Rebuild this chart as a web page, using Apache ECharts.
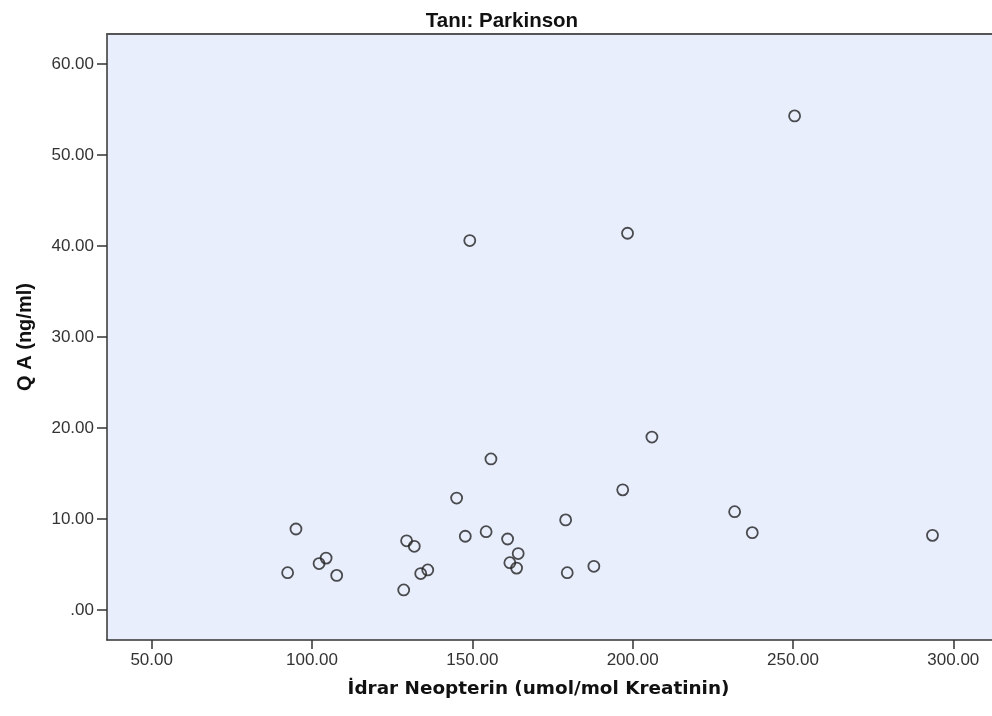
<!DOCTYPE html>
<html>
<head>
<meta charset="utf-8">
<script src="https://cdn.jsdelivr.net/npm/echarts@6/dist/echarts.min.js"></script>
<style>html,body{margin:0;padding:0;background:#fff;}#c{width:992px;height:716px;}</style>
</head>
<body>
<div id="c"></div>
<script>
const titleText = 'Tanı: Parkinson';
const xName = 'İdrar Neopterin (umol/mol Kreatinin)';
const yName = 'Q A (ng/ml)';
const neopterin = [250.5, 198.4, 149.2, 206.0, 155.8, 145.1, 196.9, 231.8, 179.1, 95.0, 237.3, 293.5, 154.3, 147.8, 161.0, 129.5, 131.9, 164.3, 104.4, 102.2, 161.7, 187.9, 163.8, 92.4, 179.6, 136.1, 133.9, 107.7, 128.6];
const qa = [54.3, 41.4, 40.6, 19.0, 16.6, 12.3, 13.2, 10.8, 9.9, 8.9, 8.5, 8.2, 8.6, 8.1, 7.8, 7.6, 7.0, 6.2, 5.7, 5.1, 5.2, 4.8, 4.6, 4.1, 4.1, 4.4, 4.0, 3.8, 2.2];
const xTicks = [50, 100, 150, 200, 250, 300];
const yTicks = [0, 10, 20, 30, 40, 50, 60];

const points = neopterin.map((v, i) => [v, qa[i]]);
const fmt = v => v === 0 ? '.00' : Number(v).toFixed(2);

const chart = echarts.init(document.getElementById('c'));
chart.setOption({
  animation: false,
  title: {
    text: titleText, left: 497, top: 6, textAlign: 'center',
    textStyle: { fontFamily: 'Liberation Sans, Arial', fontWeight: 'bold', fontSize: 20.5, color: '#111' }
  },
  grid: { left: 107, top: 34, right: 0, bottom: 76, show: true, backgroundColor: '#e8eefc', borderWidth: 0 },
  xAxis: [{
    type: 'value', min: 36.07, max: 312.06,
    name: xName, nameLocation: 'middle', nameGap: 40,
    nameTextStyle: { fontFamily: 'DejaVu Sans', fontWeight: 'bold', fontSize: 18.4, color: '#111', padding: [0, 22, 0, 0] },
    axisLine: { show: true, onZero: false, lineStyle: { color: '#333', width: 1.5 } },
    axisTick: { show: true, length: 9, customValues: xTicks, lineStyle: { color: '#333', width: 1.5 } },
    axisLabel: { customValues: xTicks, formatter: fmt, margin: 12, fontFamily: 'Liberation Sans, Arial', fontSize: 17, color: '#333' },
    splitLine: { show: false }
  }, {
    type: 'value', position: 'top', min: 36.07, max: 312.06,
    axisLine: { show: true, onZero: false, lineStyle: { color: '#555', width: 2 } },
    axisTick: { show: false }, axisLabel: { show: false }, splitLine: { show: false }
  }],
  yAxis: {
    type: 'value', min: -3.30, max: 63.30,
    name: yName, nameLocation: 'middle', nameGap: 72, nameRotate: 90,
    nameTextStyle: { fontFamily: 'Liberation Sans, Arial', fontWeight: 'bold', fontSize: 20, color: '#111' },
    axisLine: { show: true, onZero: false, lineStyle: { color: '#333', width: 1.5 } },
    axisTick: { show: true, length: 10, customValues: yTicks, lineStyle: { color: '#333', width: 1.5 } },
    axisLabel: { customValues: yTicks, formatter: fmt, margin: 13, fontFamily: 'Liberation Sans, Arial', fontSize: 17, color: '#333' },
    splitLine: { show: false }
  },
  series: [{
    type: 'scatter', xAxisIndex: 0,
    data: points,
    symbol: 'circle', symbolSize: 11,
    itemStyle: { color: 'rgba(0,0,0,0)', borderColor: '#222', borderWidth: 1.8 }
  }]
});
</script>
</body>
</html>
